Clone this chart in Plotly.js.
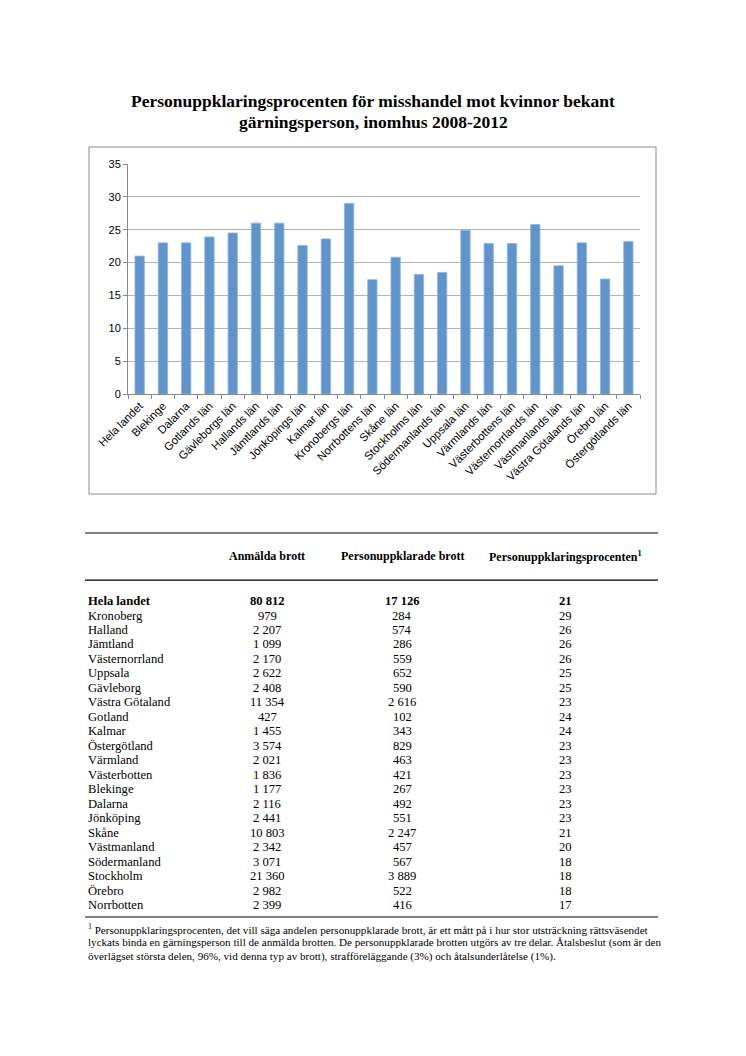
<!DOCTYPE html>
<html>
<head>
<meta charset="utf-8">
<script src="https://cdn.plot.ly/plotly-3.0.1.min.js"></script>
<style>html,body{margin:0;padding:0;background:#fff;}#chart{width:746px;height:1056px;}</style>
</head>
<body>
<div id="chart"></div>
<script>
// ---- Chart data ----
const regions = ['Hela landet','Blekinge','Dalarna','Gotlands län','Gävleborgs län','Hallands län','Jämtlands län','Jönköpings län','Kalmar län','Kronobergs län','Norrbottens län','Skåne län','Stockholms län','Södermanlands län','Uppsala län','Värmlands län','Västerbottens län','Västernorrlands län','Västmanlands län','Västra Götalands län','Örebro län','Östergötlands län'];
const rates = [21.0,23.0,23.0,23.9,24.5,26.0,26.0,22.6,23.6,29.0,17.4,20.8,18.2,18.5,24.9,22.9,22.9,25.8,19.5,23.0,17.5,23.2];
const yTicks = [0,5,10,15,20,25,30,35];

// ---- Table data ----
const tableHeaders = ['Anmälda brott','Personuppklarade brott','Personuppklaringsprocenten<sup>1</sup>'];
const tableNames = ['Hela landet','Kronoberg','Halland','Jämtland','Västernorrland','Uppsala','Gävleborg','Västra Götaland','Gotland','Kalmar','Östergötland','Värmland','Västerbotten','Blekinge','Dalarna','Jönköping','Skåne','Västmanland','Södermanland','Stockholm','Örebro','Norrbotten'];
const reported = [80812,979,2207,1099,2170,2622,2408,11354,427,1455,3574,2021,1836,1177,2116,2441,10803,2342,3071,21360,2982,2399];
const cleared = [17126,284,574,286,559,652,590,2616,102,343,829,463,421,267,492,551,2247,457,567,3889,522,416];
const percent = [21,29,26,26,26,25,25,23,24,24,23,23,23,23,23,23,21,20,18,18,18,17];

const titleLines = ['Personuppklaringsprocenten för misshandel mot kvinnor bekant', 'gärningsperson, inomhus 2008-2012'];
const footnoteLines = [
  '<sup>1</sup> Personuppklaringsprocenten, det vill säga andelen personuppklarade brott, är ett mått på i hur stor utsträckning rättsväsendet',
  'lyckats binda en gärningsperson till de anmälda brotten. De personuppklarade brotten utgörs av tre delar. Åtalsbeslut (som är den',
  'överlägset största delen, 96%, vid denna typ av brott), strafföreläggande (3%) och åtalsunderlåtelse (1%).'
];

function fmt(n){ return String(n).replace(/\B(?=(\d{3})+(?!\d))/g, ' '); }

const W = 746, H = 1056;
const px = x => x / W;
const py = y => 1 - y / H;

const serif = 'Liberation Serif, Times New Roman, serif';
const sans = 'Liberation Sans, Arial, sans-serif';

const trace = {
  type: 'bar',
  x: regions,
  y: rates,
  marker: {color: '#5f94cc', line: {color: '#8fb4de', width: 0.8}},
  hoverinfo: 'x+y'
};

const annotations = [];
const titleY = [101, 122];
titleLines.forEach((t,i)=>{
  annotations.push({xref:'paper', yref:'paper', x: px(373), y: py(titleY[i]), xanchor:'center', yanchor:'middle',
    text: '<b>' + t + '</b>', showarrow:false, font:{family: serif, size: 17.5, color:'#000'}});
});
const colX = [267, 402, 565];
const headerRow = -3.1;
tableHeaders.forEach((h,i)=>{
  annotations.push({xref:'paper', yref:'y2', x: px(colX[i]), y: headerRow, xanchor:'center', yanchor:'middle',
    text: '<b>'+h+'</b>', showarrow:false, font:{family: serif, size: 12, color:'#000'}});
});
tableNames.forEach((n,i)=>{
  const b = i === 0;
  const w = s => b ? '<b>'+s+'</b>' : s;
  const f = {family: serif, size: 12.6, color:'#000'};
  annotations.push({xref:'paper', yref:'y2', x: px(86), y: i, xanchor:'left', yanchor:'middle',
    text: w(n), showarrow:false, font:f});
  annotations.push({xref:'paper', yref:'y2', x: px(colX[0]), y: i, xanchor:'center', yanchor:'middle',
    text: w(fmt(reported[i])), showarrow:false, font:f});
  annotations.push({xref:'paper', yref:'y2', x: px(colX[1]), y: i, xanchor:'center', yanchor:'middle',
    text: w(fmt(cleared[i])), showarrow:false, font:f});
  annotations.push({xref:'paper', yref:'y2', x: px(colX[2]), y: i, xanchor:'center', yanchor:'middle',
    text: w(String(percent[i])), showarrow:false, font:f});
});
const footY = [929, 942.5, 956];
footnoteLines.forEach((t,i)=>{
  annotations.push({xref:'paper', yref:'paper', x: px(86), y: py(footY[i]), xanchor:'left', yanchor:'middle',
    text: t, showarrow:false, align:'left', font:{family: serif, size: 11.1, color:'#000'}});
});

const shapes = [
  {type:'rect', xref:'paper', yref:'paper', x0: px(89), x1: px(656), y0: py(494), y1: py(147),
   line:{color:'#8a8a8a', width:1}, fillcolor:'rgba(0,0,0,0)', layer:'below'},
  {type:'line', xref:'paper', yref:'y2 domain', x0: px(85), x1: px(658), y0: 1, y1: 1, line:{color:'#000', width:1.2}},
  {type:'line', xref:'paper', yref:'y2', x0: px(85), x1: px(658), y0: -1.45, y1: -1.45, line:{color:'#000', width:1.2}},
  {type:'line', xref:'paper', yref:'y2 domain', x0: px(85), x1: px(658), y0: 0, y1: 0, line:{color:'#000', width:1.2}}
];

const layout = {
  width: W, height: H,
  margin: {l:0, r:0, t:0, b:0},
  paper_bgcolor: '#fff', plot_bgcolor: '#fff',
  showlegend: false,
  bargap: 0.6,
  xaxis: {
    domain: [px(128), px(640)],
    anchor: 'y',
    type: 'category',
    tickangle: -45,
    tickfont: {family: sans, size: 11.3, color:'#000'},
    showline: true, linecolor: '#888', linewidth: 1,
    ticks: 'outside', ticklen: 4, tickcolor: '#888', tickson: 'boundaries',
    showgrid: false, zeroline: false, fixedrange: true
  },
  yaxis: {
    domain: [py(394), py(164)],
    anchor: 'x',
    range: [0, 35],
    tickvals: yTicks,
    tickfont: {family: sans, size: 11, color:'#000'},
    showline: true, linecolor: '#888', linewidth: 1,
    ticks: 'outside', ticklen: 4, tickcolor: '#888',
    showgrid: true, gridcolor: '#b3b3b3', gridwidth: 1,
    zeroline: false, fixedrange: true
  },
  yaxis2: {
    domain: [py(917), py(533)],
    range: [21.83, -4.7],
    anchor: 'free', position: 0,
    visible: false, fixedrange: true
  },
  annotations: annotations,
  shapes: shapes
};

Plotly.newPlot('chart', [trace], layout, {displayModeBar: false, staticPlot: true});
</script>
</body>
</html>
